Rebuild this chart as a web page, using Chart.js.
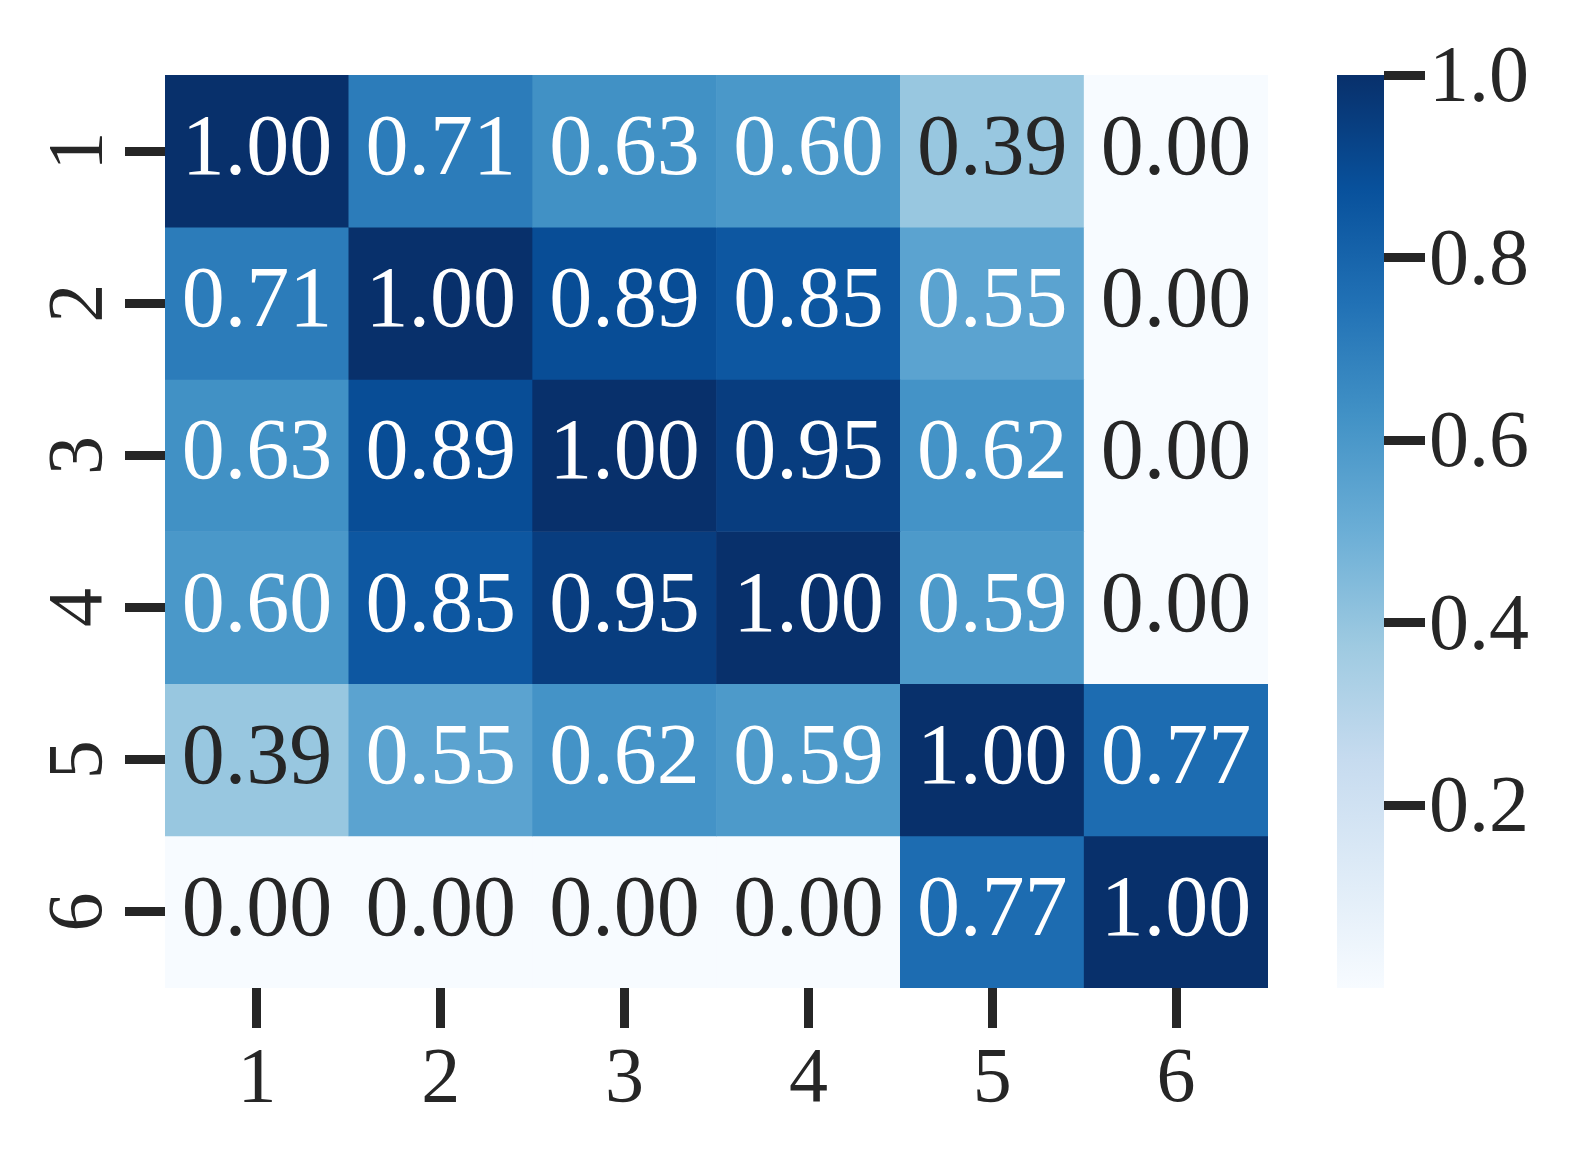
<!DOCTYPE html>
<html>
<head>
<meta charset="utf-8">
<script src="https://cdn.jsdelivr.net/npm/chart.js@4/dist/chart.umd.min.js"></script>
<style>
  html, body { margin: 0; padding: 0; background: #ffffff; }
  #wrap { position: relative; width: 1578px; height: 1167px; }
  #heat { position: absolute; left: 0; top: 0; }
  #cbar { position: absolute; left: 1300px; top: 0; }
</style>
</head>
<body>
<div id="wrap">
  <canvas id="heat" width="1578" height="1167"></canvas>
  <canvas id="cbar" width="278" height="1167"></canvas>
</div>
<script>
'use strict';

// data
var colLabels = ['1', '2', '3', '4', '5', '6'];
var rowLabels = ['1', '2', '3', '4', '5', '6'];
var row1 = [1.00, 0.71, 0.63, 0.60, 0.39, 0.00];
var row2 = [0.71, 1.00, 0.89, 0.85, 0.55, 0.00];
var row3 = [0.63, 0.89, 1.00, 0.95, 0.62, 0.00];
var row4 = [0.60, 0.85, 0.95, 1.00, 0.59, 0.00];
var row5 = [0.39, 0.55, 0.62, 0.59, 1.00, 0.77];
var row6 = [0.00, 0.00, 0.00, 0.00, 0.77, 1.00];
var rows = [row1, row2, row3, row4, row5, row6];
var cbarTicks = [0.2, 0.4, 0.6, 0.8, 1.0];

var FONT = '"Liberation Serif", "DejaVu Serif", serif';
var INK = '#262626';

// matplotlib "Blues" colour stops
var bluesStops = ['#f7fbff', '#deebf7', '#c6dbef', '#9ecae1', '#6baed6',
                  '#4292c6', '#2171b5', '#08519c', '#08306b'];

function hexRgb(h) {
    return [parseInt(h.substr(1, 2), 16), parseInt(h.substr(3, 2), 16), parseInt(h.substr(5, 2), 16)];
}

function blues(v) {
    v = Math.max(0, Math.min(1, v));
    var pos = v * (bluesStops.length - 1);
    var i = Math.min(Math.floor(pos), bluesStops.length - 2);
    var t = pos - i;
    var a = hexRgb(bluesStops[i]), b = hexRgb(bluesStops[i + 1]);
    return [0, 1, 2].map(function (k) { return Math.round(a[k] + (b[k] - a[k]) * t); });
}

function rgbStr(c) { return 'rgb(' + c[0] + ',' + c[1] + ',' + c[2] + ')'; }

// same rule seaborn uses to pick the annotation colour
function luminance(c) {
    var lin = c.map(function (x) {
        x = x / 255;
        return x <= 0.03928 ? x / 12.92 : Math.pow((x + 0.055) / 1.055, 2.4);
    });
    return 0.2126 * lin[0] + 0.7152 * lin[1] + 0.0722 * lin[2];
}

// one stacked dataset per row, every cell is one unit tall
var datasets = rows.map(function (r, i) {
    return {
        label: rowLabels[i],
        data: r.map(function () { return 1; }),
        backgroundColor: r.map(function (v) { return rgbStr(blues(v)); }),
        borderWidth: 0,
        barPercentage: 1.0,
        categoryPercentage: 1.0
    };
});

var annotPlugin = {
    id: 'annot',
    afterDatasetsDraw: function (chart) {
        var ctx = chart.ctx;
        var fs = 86;
        ctx.save();
        ctx.font = fs + 'px ' + FONT;
        ctx.textAlign = 'center';
        ctx.textBaseline = 'alphabetic';
        rows.forEach(function (r, ri) {
            var meta = chart.getDatasetMeta(ri);
            meta.data.forEach(function (el, ci) {
                var v = r[ci];
                ctx.fillStyle = luminance(blues(v)) < 0.408 ? '#ffffff' : INK;
                var cy = (el.y + el.base) / 2;
                ctx.fillText(v.toFixed(2), el.x, cy + 23);
            });
        });
        ctx.restore();
    }
};

var heat = new Chart(document.getElementById('heat'), {
    type: 'bar',
    data: { labels: colLabels, datasets: datasets },
    plugins: [annotPlugin],
    options: {
        responsive: false,
        animation: false,
        layout: { padding: { left: 0, top: 75, right: 310, bottom: 0 } },
        plugins: { legend: { display: false }, tooltip: { enabled: false } },
        scales: {
            x: {
                stacked: true,
                offset: true,
                afterFit: function (s) { s.height = 179; },
                border: { display: false },
                grid: { offset: false, drawOnChartArea: false, tickLength: 40, tickWidth: 9, tickColor: INK },
                ticks: { color: INK, font: { family: FONT, size: 78 }, padding: 6, maxRotation: 0 }
            },
            y: {
                stacked: true,
                reverse: true,
                min: 0,
                max: 6,
                afterFit: function (s) { s.width = 165; },
                afterBuildTicks: function (s) {
                    s.ticks = rowLabels.map(function (l, i) { return { value: i + 0.5 }; });
                },
                border: { display: false },
                grid: { drawOnChartArea: false, tickLength: 40, tickWidth: 9, tickColor: INK },
                ticks: {
                    color: INK,
                    font: { family: FONT, size: 78 },
                    minRotation: 90,
                    maxRotation: 90,
                    crossAlign: 'center',
                    padding: 25,
                    callback: function (v, i) { return rowLabels[i]; }
                }
            }
        }
    }
});

// colorbar
var cbar = new Chart(document.getElementById('cbar'), {
    type: 'bar',
    data: {
        labels: [''],
        datasets: [{
            data: [[0, 1]],
            borderWidth: 0,
            barPercentage: 1.0,
            categoryPercentage: 1.0,
            backgroundColor: function (c) {
                var area = c.chart.chartArea;
                if (!area) return null;
                var g = c.chart.ctx.createLinearGradient(0, area.bottom, 0, area.top);
                bluesStops.forEach(function (col, i) { g.addColorStop(i / (bluesStops.length - 1), col); });
                return g;
            }
        }]
    },
    options: {
        responsive: false,
        animation: false,
        layout: { padding: { left: 37, top: 75, right: 0, bottom: 179 } },
        plugins: { legend: { display: false }, tooltip: { enabled: false } },
        scales: {
            x: { display: false },
            y: {
                position: 'right',
                min: 0,
                max: 1,
                afterFit: function (s) { s.width = 194; },
                afterBuildTicks: function (s) {
                    s.ticks = cbarTicks.map(function (v) { return { value: v }; });
                },
                border: { display: false },
                grid: { drawOnChartArea: false, tickLength: 41, tickWidth: 9, tickColor: INK },
                ticks: {
                    color: INK,
                    font: { family: FONT, size: 80 },
                    padding: 4,
                    labelOffset: 5,
                    callback: function (v) { return v.toFixed(1); }
                }
            }
        }
    }
});
</script>
</body>
</html>
